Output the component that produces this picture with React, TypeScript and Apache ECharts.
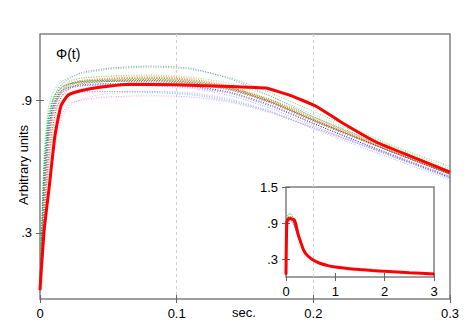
import React, { useEffect, useRef } from 'react';
import * as echarts from 'echarts';

// sample times (sec.) for the thin dotted traces
const T = [0, 0.003, 0.006, 0.009, 0.012, 0.016, 0.022, 0.03, 0.05, 0.08, 0.11, 0.14, 0.17, 0.2, 0.23, 0.26, 0.3];

const c01 = [0.06, 0.58, 0.80, 0.89, 0.94, 0.975, 1.0, 1.025, 1.045, 1.055, 1.045, 0.995, 0.915, 0.825, 0.745, 0.665, 0.565];
const c02 = [0.08, 0.66, 0.86, 0.93, 0.96, 0.985, 1.005, 1.02, 1.04, 1.05, 1.04, 1.0, 0.93, 0.85, 0.77, 0.69, 0.60];
const c03 = [0.05, 0.48, 0.74, 0.86, 0.92, 0.96, 0.985, 1.0, 1.008, 1.01, 1.0, 0.965, 0.9, 0.82, 0.745, 0.67, 0.575];
const c04 = [0.04, 0.42, 0.68, 0.82, 0.89, 0.945, 0.975, 0.99, 1.0, 1.005, 0.995, 0.96, 0.895, 0.815, 0.74, 0.665, 0.57];
const c05 = [0.05, 0.45, 0.71, 0.84, 0.905, 0.945, 0.97, 0.985, 0.995, 1.0, 0.99, 0.955, 0.89, 0.81, 0.735, 0.66, 0.565];
const c06 = [0.06, 0.52, 0.76, 0.86, 0.9, 0.92, 0.935, 0.94, 0.94, 0.935, 0.925, 0.895, 0.845, 0.775, 0.71, 0.64, 0.55];
const c07 = [0.02, 0.28, 0.50, 0.66, 0.77, 0.84, 0.885, 0.9, 0.915, 0.92, 0.915, 0.89, 0.84, 0.775, 0.71, 0.645, 0.555];
const c08 = [0.05, 0.46, 0.72, 0.84, 0.895, 0.935, 0.955, 0.965, 0.97, 0.97, 0.96, 0.93, 0.87, 0.795, 0.72, 0.65, 0.555];
const c09 = [0.07, 0.58, 0.80, 0.89, 0.93, 0.96, 0.975, 0.98, 0.985, 0.985, 0.975, 0.945, 0.885, 0.805, 0.73, 0.66, 0.565];
const c10 = [0.05, 0.50, 0.75, 0.86, 0.91, 0.945, 0.96, 0.97, 0.975, 0.975, 0.965, 0.935, 0.875, 0.795, 0.72, 0.645, 0.55];
const c11 = [0.03, 0.33, 0.58, 0.73, 0.82, 0.88, 0.925, 0.95, 0.97, 0.98, 0.975, 0.945, 0.885, 0.805, 0.735, 0.66, 0.57];
const c12 = [0.06, 0.56, 0.79, 0.89, 0.94, 0.97, 0.99, 1.0, 1.01, 1.015, 1.005, 0.975, 0.915, 0.835, 0.76, 0.685, 0.59];
const c13 = [0.05, 0.47, 0.72, 0.84, 0.9, 0.94, 0.965, 0.98, 0.99, 0.995, 0.985, 0.95, 0.89, 0.81, 0.735, 0.66, 0.565];
const c14 = [0.05, 0.49, 0.74, 0.85, 0.9, 0.935, 0.955, 0.965, 0.97, 0.965, 0.955, 0.92, 0.86, 0.785, 0.71, 0.64, 0.545];
const c15 = [0.02, 0.24, 0.45, 0.61, 0.73, 0.82, 0.875, 0.905, 0.93, 0.94, 0.935, 0.905, 0.85, 0.78, 0.715, 0.645, 0.555];
const c16 = [0.06, 0.54, 0.78, 0.87, 0.92, 0.955, 0.975, 0.985, 0.99, 0.99, 0.98, 0.95, 0.89, 0.81, 0.735, 0.66, 0.565];
const c17 = [0.04, 0.40, 0.66, 0.80, 0.88, 0.935, 0.965, 0.985, 0.995, 1.0, 0.99, 0.955, 0.895, 0.815, 0.74, 0.665, 0.57];
const c18 = [0.03, 0.36, 0.62, 0.77, 0.86, 0.92, 0.955, 0.975, 0.985, 0.99, 0.98, 0.95, 0.89, 0.81, 0.735, 0.66, 0.565];
const c19 = [0.07, 0.62, 0.83, 0.9, 0.935, 0.96, 0.975, 0.985, 0.99, 0.995, 0.985, 0.955, 0.9, 0.825, 0.75, 0.675, 0.58];
const c20 = [0.04, 0.44, 0.70, 0.82, 0.87, 0.9, 0.925, 0.935, 0.94, 0.94, 0.93, 0.9, 0.845, 0.77, 0.70, 0.63, 0.54];

const THIN = [c01, c02, c03, c04, c05, c06, c07, c08, c09, c10, c11, c12, c13, c14, c15, c16, c17, c18, c19, c20];
const THIN_COLORS = [
  '#5555ff', '#44cc44', '#ff9900', '#ff3333', '#996633', '#00cccc', '#ff66ff', '#9933cc', '#008800', '#0000cc',
  '#ff6666', '#66dd66', '#bbbb00', '#6699ff', '#ff99cc', '#009999', '#ff8800', '#cc0000', '#00aa00', '#9999ff',
];

// thick red trace (time, value)
const RED_T = [0, 0.003, 0.0068, 0.0105, 0.013, 0.0155, 0.02, 0.025, 0.035, 0.05, 0.065, 0.1, 0.14, 0.165, 0.1825, 0.202, 0.222, 0.246, 0.271, 0.3];
const RED_V = [0.04, 0.31, 0.51, 0.72, 0.81, 0.877, 0.92, 0.935, 0.95, 0.963, 0.972, 0.97, 0.962, 0.955, 0.923, 0.873, 0.795, 0.711, 0.647, 0.575];
// red trace continued, shown in the inset
const RED_TAIL_T = [0.35, 0.4, 0.5, 0.6, 0.7, 0.85, 1.0, 1.25, 1.5, 1.75, 2.0, 2.5, 3.0];
const RED_TAIL_V = [0.46, 0.39, 0.31, 0.26, 0.225, 0.19, 0.168, 0.142, 0.124, 0.108, 0.096, 0.072, 0.05];

const MAIN_Y_LABELS = [0.3, 0.9];
const INSET_Y_LABELS = [0.3, 0.9, 1.5];

const FONT = 'Liberation Sans, Arial, sans-serif';

export default function App() {
  const ref = useRef<HTMLDivElement>(null);
  useEffect(() => {
    if (!ref.current) return;
    const chart = echarts.init(ref.current, undefined, { renderer: 'svg' });

    const thinSeries = (xi: number, yi: number) =>
      THIN.map((c, k) => ({
        type: 'line',
        xAxisIndex: xi,
        yAxisIndex: yi,
        data: T.map((t, i) => [t, c[i]]),
        showSymbol: false,
        smooth: 0.2,
        silent: true,
        z: 2,
        lineStyle: { color: THIN_COLORS[k], width: 1, type: [1, 1.5], opacity: 0.7 },
      }));

    const redMain = RED_T.map((t, i) => [t, RED_V[i]]);
    const redAll = redMain.concat(RED_TAIL_T.map((t, i) => [t, RED_TAIL_V[i]]));

    const tickStyle = { inside: true, length: 4, lineStyle: { color: '#666', width: 1 } };
    const labelStyle = { color: '#000', fontSize: 13, fontFamily: FONT };
    const splitStyle = { show: true, showMinLine: false, showMaxLine: false, lineStyle: { color: '#d0d0d0', type: [3, 3], width: 1 } };

    const fmtY = (v: number) => (v >= 1 ? v.toFixed(1) : '.' + Math.round(v * 10));

    chart.setOption({
      animation: false,
      backgroundColor: '#fff',
      grid: [
        { left: 40, top: 34, width: 410, height: 265, show: true, borderColor: '#808080', borderWidth: 1.5, backgroundColor: 'transparent' },
        { left: 286, top: 187, width: 148, height: 90, show: true, borderColor: '#808080', borderWidth: 1.5, backgroundColor: 'transparent' },
      ],
      xAxis: [
        {
          gridIndex: 0, type: 'value', min: 0, max: 0.3, interval: 0.1, position: 'bottom',
          axisLine: { show: false }, axisTick: tickStyle,
          axisLabel: { ...labelStyle, margin: 8, showMinLabel: true, showMaxLabel: true, formatter: (v: number) => (v === 0 ? '0' : String(+v.toFixed(1))) },
          splitLine: splitStyle,
        },
        {
          gridIndex: 0, type: 'value', min: 0, max: 0.3, interval: 0.1, position: 'top',
          axisLine: { show: false }, axisTick: tickStyle, axisLabel: { show: false }, splitLine: { show: false },
        },
        {
          gridIndex: 1, type: 'value', min: 0, max: 3, interval: 1, position: 'bottom',
          axisLine: { show: false }, axisTick: tickStyle,
          axisLabel: { ...labelStyle, margin: 8, formatter: (v: number) => String(Math.round(v)) },
          splitLine: { show: false },
        },
        {
          gridIndex: 1, type: 'value', min: 0, max: 3, interval: 1, position: 'top',
          axisLine: { show: false }, axisTick: tickStyle, axisLabel: { show: false }, splitLine: { show: false },
        },
      ],
      yAxis: [
        {
          gridIndex: 0, type: 'value', min: 0, max: 1.2, position: 'left',
          axisLine: { show: false },
          axisTick: { ...tickStyle, customValues: MAIN_Y_LABELS },
          axisLabel: { ...labelStyle, margin: 8, customValues: MAIN_Y_LABELS, formatter: fmtY },
          splitLine: splitStyle,
        },
        {
          gridIndex: 0, type: 'value', min: 0, max: 1.2, position: 'right',
          axisLine: { show: false },
          axisTick: { ...tickStyle, customValues: MAIN_Y_LABELS },
          axisLabel: { show: false }, splitLine: { show: false },
        },
        {
          gridIndex: 1, type: 'value', min: 0, max: 1.5, position: 'left',
          axisLine: { show: false },
          axisTick: { ...tickStyle, customValues: INSET_Y_LABELS },
          axisLabel: { ...labelStyle, margin: 8, customValues: INSET_Y_LABELS, formatter: fmtY },
          splitLine: { show: false },
        },
        {
          gridIndex: 1, type: 'value', min: 0, max: 1.5, position: 'right',
          axisLine: { show: false },
          axisTick: { ...tickStyle, customValues: INSET_Y_LABELS },
          axisLabel: { show: false }, splitLine: { show: false },
        },
      ],
      series: [
        ...thinSeries(0, 0),
        {
          type: 'line', xAxisIndex: 0, yAxisIndex: 0, data: redMain, showSymbol: false, smooth: 0.15, silent: true, z: 3,
          lineStyle: { color: '#ff0000', width: 3 },
        },
        ...thinSeries(2, 2),
        {
          type: 'line', xAxisIndex: 2, yAxisIndex: 2, data: redAll, showSymbol: false, smooth: 0.2, silent: true, z: 3,
          lineStyle: { color: '#ff0000', width: 3 },
        },
      ],
      graphic: [
        { type: 'text', left: 56, top: 47, style: { text: 'Φ(t)', fontSize: 14, fontFamily: FONT, fill: '#000' } },
        { type: 'text', left: 232, top: 306, style: { text: 'sec.', fontSize: 13, fontFamily: FONT, fill: '#000' } },
        {
          type: 'text', x: 23, y: 165, rotation: Math.PI / 2,
          style: { text: 'Arbitrary units', fontSize: 13, fontFamily: FONT, fill: '#000', align: 'center', verticalAlign: 'middle' },
        },
      ],
    });
    return () => chart.dispose();
  }, []);
  return <div ref={ref} style={{ position: 'fixed', left: 0, top: 0, width: 474, height: 327 }} />;
}
